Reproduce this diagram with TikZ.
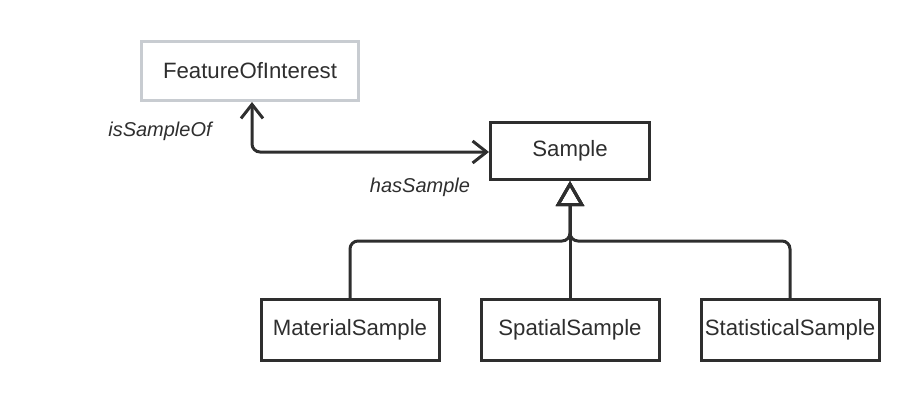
\documentclass[tikz,border=0pt]{standalone}
\usepackage{fontspec}
\setmainfont{Liberation Sans}
\usetikzlibrary{arrows.meta,positioning}

\definecolor{inkgray}{HTML}{2E2E2E}
\definecolor{palegray}{HTML}{C8CCD1}

\begin{document}
\begin{tikzpicture}[x=1pt,y=-1pt,line width=3pt,
    box/.style={draw=inkgray,text=inkgray,minimum width=178pt,minimum height=61pt,
      inner sep=0pt,font=\fontsize{22.2}{26}\selectfont},
    role/.style={text=inkgray,inner sep=0pt,font=\itshape\fontsize{20}{24}\selectfont},
    link/.style={draw=inkgray,rounded corners=8pt},
    gen/.style={link,-{Triangle[open,length=25pt,width=28pt,line width=3pt]}},
    assoc/.style={link,{Straight Barb[length=14pt,width=22pt]}-{Straight Barb[length=14pt,width=22pt]}}]
  \useasboundingbox (0,0) rectangle (920,404);

  % classes
  \node[box,draw=palegray,minimum width=217pt,minimum height=59pt] (feature) at (250,71) {FeatureOfInterest};
  \node[box,minimum width=159pt,minimum height=57pt] (sample) at (570,151) {Sample};
  \node[box] (material) at (350,330) {MaterialSample};
  \node[box] (spatial) at (570,330) {SpatialSample};
  \node[box] (statistical) at (790,330) {StatisticalSample};

  % association
  \coordinate (bend) at (252,152);
  \draw[assoc] (feature.south -| bend) -- (bend) -- (sample.west |- bend);
  \node[role] (isof) at (160,131) {isSampleOf};
  \node[role] (has) at (420,187) {hasSample};

  % generalization
  \coordinate (fork) at (570,241);
  \draw[gen] (spatial.north) -- (sample.south);
  \draw[gen] (material.north) |- (fork) -- (sample.south);
  \draw[gen] (statistical.north) |- (fork) -- (sample.south);
\end{tikzpicture}
\end{document}
